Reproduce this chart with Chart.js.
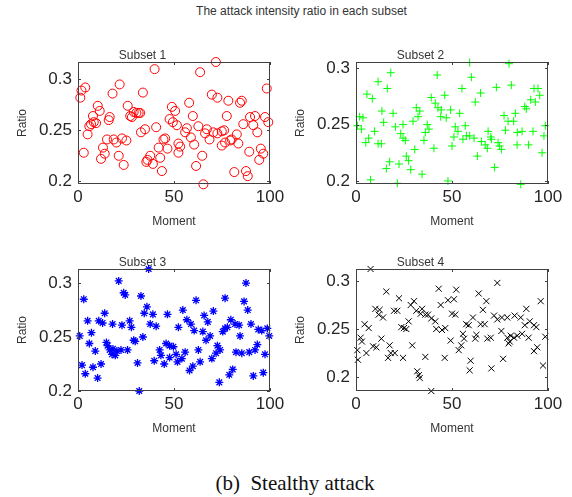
<!DOCTYPE html>
<html>
<head>
<meta charset="utf-8">
<script src="https://cdn.jsdelivr.net/npm/chart.js@4.4.0/dist/chart.umd.min.js"></script>
<style>
  body { margin: 0; background: #fff; width: 572px; height: 497px; position: relative; overflow: hidden;
         font-family: "Liberation Sans", Arial, sans-serif; }
  .panel { position: absolute; }
  #titulo { position: absolute; top: 4px; left: 0; width: 603px; text-align: center; font-size: 12px; color: #333; }
  #pie { position: absolute; top: 471px; left: 0; width: 590px; text-align: center; white-space: pre;
         font-family: "Liberation Serif", "Times New Roman", serif; font-size: 21px; color: #111; }
</style>
</head>
<body>
<div id="titulo">The attack intensity ratio in each subset</div>
<div class="panel" style="left:0px;top:50px;width:290px;height:179px"><canvas id="sub1"></canvas></div>
<div class="panel" style="left:278px;top:50px;width:290px;height:179px"><canvas id="sub2"></canvas></div>
<div class="panel" style="left:0px;top:257px;width:290px;height:179px"><canvas id="sub3"></canvas></div>
<div class="panel" style="left:278px;top:257px;width:290px;height:179px"><canvas id="sub4"></canvas></div>
<div id="pie">(b)  Stealthy attack</div>
<script>
// Ejes comunes
const ticksX = [0, 50, 100];
const ticksY = [0.2, 0.25, 0.3];

// Subset 1 (círculos rojos)
const subset1X = [39.9,21.7,3.8,1.8,1.2,18.0,33.8,10.3,11.3,25.9,7.8,16.5,16.0,27.2,29.0,30.4,31.6,32.4,28.1,8.2,6.8,5.9,9.4,5.0,40.7,34.9,32.8,15.1,18.6,22.9,25.2,20.0,13.0,13.9,12.0,3.0,21.2,23.8,45.4,44.5,46.6,42.0,42.8,37.6,36.2,39.0,35.6,43.7,48.9,50.6,47.7,49.4,51.5,52.3,52.3,
  71.8,63.6,98.3,69.7,72.6,78.3,85.3,84.4,57.9,59.8,77.5,56.7,55.8,58.8,62.7,67.1,66.2,68.5,70.5,72.6,74.9,76.1,82.7,80.1,79.2,76.6,74.9,83.5,86.1,89.6,92.2,91.3,93.4,97.4,99.1,53.2,60.5,64.7,61.5,65.3,81.4,87.5,88.4,89.2,95.2,96.5,94.4];
const subset1Y = [0.310,0.295,0.292,0.289,0.282,0.286,0.287,0.274,0.269,0.274,0.264,0.263,0.260,0.264,0.268,0.267,0.267,0.267,0.263,0.258,0.256,0.254,0.257,0.246,0.253,0.251,0.248,0.241,0.241,0.242,0.240,0.238,0.233,0.227,0.222,0.228,0.225,0.216,0.242,0.241,0.232,0.233,0.223,0.225,0.221,0.217,0.219,0.210,0.273,0.269,0.261,0.258,0.255,0.237,0.228,
  0.317,0.307,0.291,0.285,0.282,0.279,0.279,0.277,0.277,0.264,0.264,0.252,0.248,0.243,0.254,0.251,0.247,0.241,0.248,0.247,0.249,0.250,0.246,0.241,0.240,0.238,0.235,0.237,0.256,0.263,0.264,0.255,0.248,0.263,0.258,0.234,0.236,0.225,0.215,0.197,0.209,0.210,0.205,0.229,0.232,0.227,0.221];

// Subset 2 (cruces verdes)
const subset2X = [18.1,42.3,11.5,16.3,5.7,8.5,39.2,46.2,41.3,42.7,44.4,49.3,31.4,33.2,13.5,19.3,1.9,3.6,44.1,47.0,32.3,29.7,14.4,0.7,2.8,20.5,24.5,37.1,38.0,36.1,9.7,23.3,24.5,6.6,25.7,35.4,5.1,11.5,13.2,30.6,40.6,50.0,51.0,51.7,26.2,27.4,17.5,22.4,15.8,28.5,34.4,7.6,21.5,47.9,
  59.2,79.7,60.1,55.2,64.9,73.1,80.9,92.7,94.8,95.7,91.0,93.4,62.1,87.9,88.7,54.0,77.1,83.0,79.2,82.1,56.9,53.1,57.5,59.2,55.7,61.5,68.8,70.2,65.3,67.3,68.4,70.5,74.0,74.8,75.7,77.8,84.0,86.5,92.2,98.6,97.9,83.9,89.9,96.9,63.2,72.2,85.8];
const subset2Y = [0.296,0.294,0.288,0.282,0.277,0.273,0.274,0.276,0.269,0.265,0.263,0.263,0.265,0.262,0.262,0.260,0.257,0.256,0.257,0.256,0.257,0.253,0.252,0.249,0.246,0.248,0.250,0.250,0.246,0.243,0.244,0.242,0.238,0.238,0.236,0.236,0.234,0.233,0.233,0.228,0.229,0.231,0.239,0.248,0.222,0.218,0.217,0.215,0.211,0.210,0.206,0.201,0.198,0.200,
  0.305,0.304,0.292,0.282,0.278,0.283,0.285,0.282,0.282,0.276,0.272,0.270,0.270,0.266,0.264,0.260,0.258,0.260,0.253,0.253,0.249,0.244,0.240,0.240,0.237,0.238,0.244,0.239,0.235,0.232,0.229,0.237,0.234,0.231,0.228,0.245,0.243,0.244,0.244,0.249,0.240,0.232,0.232,0.225,0.222,0.212,0.197];

// Subset 3 (asteriscos azules)
const subset3X = [36.8,21.2,23.8,24.6,32.8,3.0,35.9,34.5,39.0,46.6,13.9,5.0,10.8,12.8,18.0,22.9,26.9,27.8,37.6,40.7,52.3,7.0,0.9,33.8,29.0,29.8,5.9,14.8,15.4,16.5,18.2,20.3,22.4,25.8,9.0,17.7,19.4,42.5,45.9,47.7,49.7,43.2,47.7,51.1,39.7,44.9,51.8,31.0,2.1,7.8,12.0,3.8,10.2,31.9,
  87.5,61.5,76.6,86.5,88.4,54.6,70.5,65.7,56.7,58.8,67.6,79.6,81.8,83.9,77.8,90.1,93.9,95.7,98.6,99.6,60.5,65.0,68.8,66.7,75.4,76.6,84.4,55.8,62.7,54.1,72.6,74.0,71.9,69.7,63.6,59.8,58.1,82.3,85.3,89.2,92.2,93.4,97.4,80.6,78.8,73.6,91.3,96.5];
const subset3Y = [0.313,0.302,0.291,0.289,0.288,0.285,0.278,0.272,0.271,0.271,0.272,0.265,0.265,0.263,0.262,0.261,0.265,0.259,0.262,0.260,0.259,0.254,0.251,0.250,0.247,0.246,0.244,0.245,0.242,0.238,0.239,0.237,0.238,0.238,0.237,0.234,0.233,0.238,0.244,0.242,0.241,0.233,0.231,0.234,0.228,0.225,0.227,0.226,0.224,0.222,0.225,0.216,0.212,0.200,
  0.300,0.284,0.286,0.283,0.275,0.275,0.274,0.270,0.266,0.262,0.264,0.266,0.262,0.261,0.259,0.262,0.257,0.256,0.258,0.251,0.256,0.255,0.251,0.247,0.255,0.258,0.251,0.236,0.238,0.230,0.242,0.238,0.235,0.230,0.227,0.223,0.219,0.236,0.235,0.236,0.238,0.243,0.234,0.220,0.215,0.208,0.214,0.217];

// Subset 4 (aspas negras)
const subset4X = [7.6,15.8,43.1,22.4,47.9,51.0,30.2,28.5,44.1,10.1,12.3,11.8,14.1,19.8,21.5,31.4,34.4,33.7,36.1,37.5,39.2,41.3,41.8,44.8,46.5,50.0,51.7,27.4,23.6,25.0,26.2,4.5,6.6,2.4,3.1,13.2,8.9,10.6,17.5,29.3,49.3,0.7,5.4,18.1,20.2,16.7,24.5,36.1,46.2,1.0,31.9,32.7,33.2,39.2,53.5,52.2,
  73.6,63.9,67.9,96.2,66.1,88.7,60.9,71.9,73.6,76.0,78.8,82.6,85.8,90.5,87.9,92.7,93.9,57.4,58.7,64.9,67.0,55.7,62.7,75.7,56.3,62.1,68.4,70.2,78.8,80.6,82.3,84.0,86.5,89.9,80.1,79.5,98.6,54.8,94.4,92.7,76.6,59.7,59.2,70.5,97.4];
const subset4Y = [0.3125,0.289,0.292,0.282,0.280,0.281,0.279,0.275,0.275,0.271,0.270,0.265,0.262,0.269,0.269,0.269,0.271,0.266,0.265,0.265,0.261,0.258,0.250,0.249,0.251,0.266,0.265,0.258,0.252,0.251,0.250,0.255,0.251,0.241,0.237,0.240,0.232,0.231,0.233,0.233,0.238,0.228,0.225,0.225,0.225,0.220,0.220,0.221,0.220,0.218,0.206,0.202,0.199,0.1855,0.228,0.291,
  0.298,0.287,0.279,0.279,0.270,0.271,0.262,0.264,0.260,0.262,0.262,0.264,0.262,0.258,0.254,0.254,0.252,0.255,0.254,0.255,0.255,0.245,0.244,0.248,0.240,0.240,0.240,0.241,0.241,0.243,0.241,0.243,0.245,0.241,0.237,0.235,0.242,0.233,0.231,0.227,0.219,0.217,0.207,0.209,0.212];

const colorTexto = '#262626';
const fuenteEjes = "'Liberation Sans', Arial, sans-serif";

// Marco de la caja y marcas hacia dentro (estilo MATLAB)
const marcoEjes = {
  id: 'marcoEjes',
  afterDatasetsDraw(chart) {
    const { ctx, chartArea: a, scales: { x, y } } = chart;
    const largo = 3;
    ctx.save();
    ctx.strokeStyle = '#404040';
    ctx.lineWidth = 1;
    ctx.strokeRect(a.left + 0.5, a.top + 0.5, a.width - 1, a.height - 1);
    ctx.beginPath();
    x.ticks.forEach(t => {
      const px = Math.round(x.getPixelForValue(t.value)) + 0.5;
      ctx.moveTo(px, a.bottom); ctx.lineTo(px, a.bottom - largo);
      ctx.moveTo(px, a.top); ctx.lineTo(px, a.top + largo);
    });
    y.ticks.forEach(t => {
      const py = Math.round(y.getPixelForValue(t.value)) + 0.5;
      ctx.moveTo(a.left, py); ctx.lineTo(a.left + largo, py);
      ctx.moveTo(a.right, py); ctx.lineTo(a.right - largo, py);
    });
    ctx.stroke();
    ctx.restore();
  }
};

function crearSubgrafica(id, titulo, xs, ys, estilo, yMin, yMax) {
  const puntos = xs.map((x, i) => ({ x: x, y: ys[i] }));
  return new Chart(document.getElementById(id), {
    type: 'scatter',
    data: {
      datasets: [{
        data: puntos,
        pointStyle: estilo.forma,
        pointRadius: estilo.radio,
        pointBorderColor: estilo.color,
        pointBackgroundColor: 'rgba(0,0,0,0)',
        pointBorderWidth: estilo.grosor,
        clip: false
      }]
    },
    options: {
      responsive: true,
      maintainAspectRatio: false,
      animation: false,
      events: [],
      layout: { padding: { left: 15, top: 0, right: 20, bottom: 0 } },
      plugins: {
        legend: { display: false },
        tooltip: { enabled: false },
        title: {
          display: true,
          text: titulo,
          color: '#333',
          font: { family: fuenteEjes, size: 12, weight: 'normal', lineHeight: 1 },
          padding: 0
        }
      },
      scales: {
        x: {
          type: 'linear',
          min: 0, max: 100,
          grid: { display: false, drawTicks: false, tickLength: 0 },
          border: { display: false },
          ticks: { color: colorTexto, font: { family: fuenteEjes, size: 17 }, padding: 3, maxRotation: 0 },
          afterBuildTicks: s => { s.ticks = ticksX.map(v => ({ value: v })); },
          afterFit: s => { s.height = 45; s.paddingLeft = 0; s.paddingRight = 0; },
          title: { display: true, text: 'Moment', color: '#333', padding: 0,
                   font: { family: fuenteEjes, size: 12, lineHeight: 1.2 } }
        },
        y: {
          type: 'linear',
          min: yMin, max: yMax,
          grid: { display: false, drawTicks: false, tickLength: 0 },
          border: { display: false },
          ticks: { color: colorTexto, font: { family: fuenteEjes, size: 17 }, padding: 6,
                   callback: v => String(+v.toFixed(2)) },
          afterBuildTicks: s => { s.ticks = ticksY.map(v => ({ value: v })); },
          afterFit: s => { s.width = 63; s.paddingTop = 0; s.paddingBottom = 0; },
          title: { display: true, text: 'Ratio', color: '#333', padding: 0,
                   font: { family: fuenteEjes, size: 12, lineHeight: 1.2 } }
        }
      }
    },
    plugins: [marcoEjes]
  });
}

crearSubgrafica('sub1', 'Subset 1', subset1X, subset1Y, { forma: 'circle', radio: 4.5, color: '#ff0000', grosor: 1 }, 0.1973, 0.317);
crearSubgrafica('sub2', 'Subset 2', subset2X, subset2Y, { forma: 'cross', radio: 4, color: '#00ff00', grosor: 1 }, 0.1973, 0.3055);
crearSubgrafica('sub3', 'Subset 3', subset3X, subset3Y, { forma: 'star', radio: 4, color: '#0000ff', grosor: 1.3 }, 0.2, 0.313);
crearSubgrafica('sub4', 'Subset 4', subset4X, subset4Y, { forma: 'crossRot', radio: 4.3, color: '#000000', grosor: 1 }, 0.1855, 0.3125);
</script>
</body>
</html>
